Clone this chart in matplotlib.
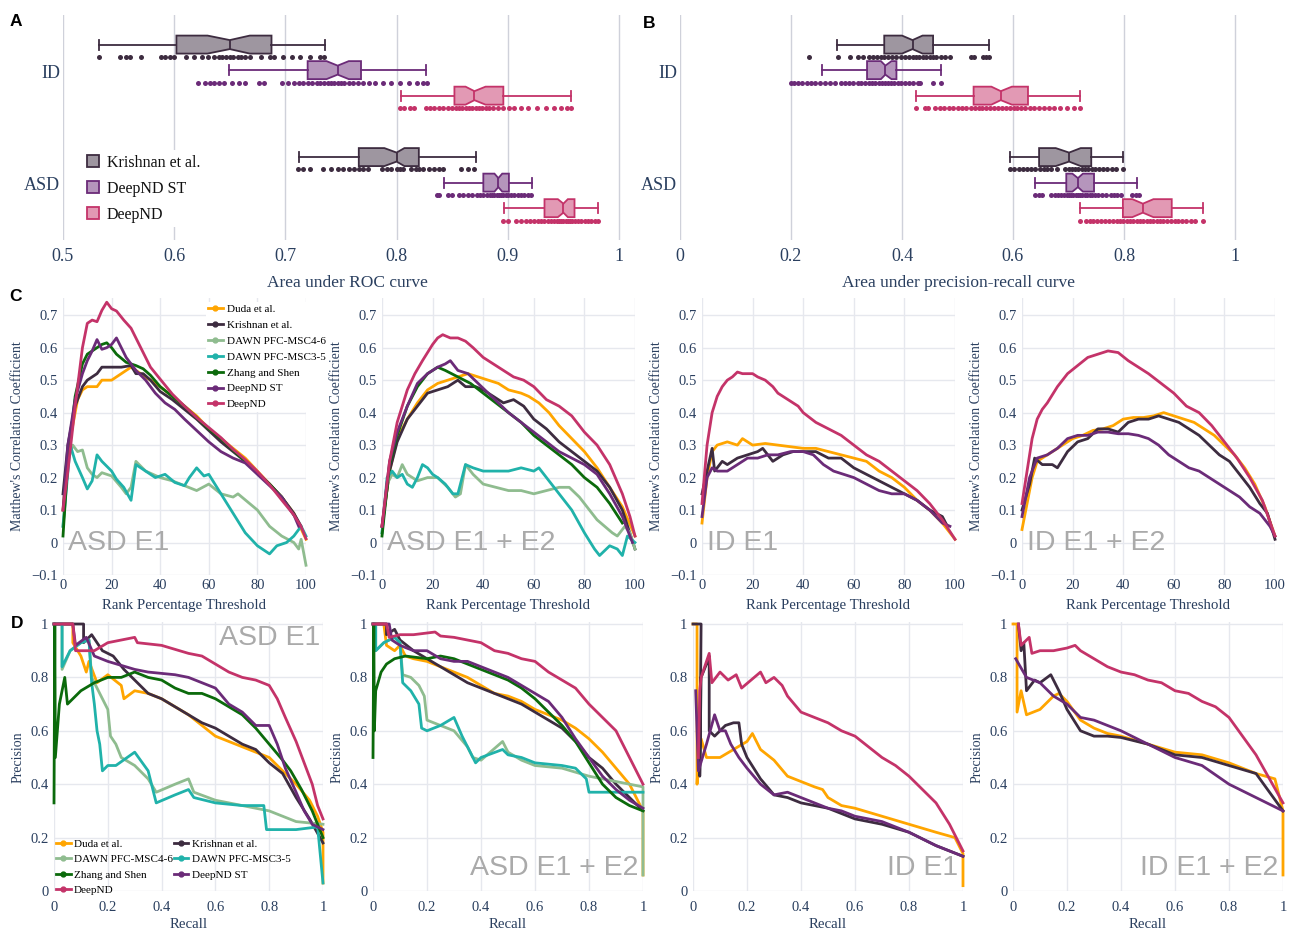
"""
DeepND figure: AUC box plots (A, B), MCC curves (C) and precision-recall curves (D).
Values are read off the published figure.
"""
import matplotlib
matplotlib.use("Agg")
import matplotlib.pyplot as plt
import matplotlib.colors as mc
from matplotlib.lines import Line2D
from matplotlib.ticker import FuncFormatter, MultipleLocator

W, H = 1293, 933
SERIF = ["Liberation Serif", "DejaVu Serif"]
SANS = ["Liberation Sans", "DejaVu Sans"]
INK = "#2a3f5f"
GRID = "#e6e8ee"

COLORS = {
    "Duda et al.": "#ffa500",
    "Krishnan et al.": "#3d2c40",
    "DAWN PFC-MSC4-6": "#8fbc8f",
    "DAWN PFC-MSC3-5": "#20b2aa",
    "Zhang and Shen": "#0b6a0b",
    "DeepND ST": "#6b2b78",
    "DeepND": "#c43369",
}
ALL_METHODS = ["Duda et al.", "Krishnan et al.", "DAWN PFC-MSC4-6", "DAWN PFC-MSC3-5",
               "Zhang and Shen", "DeepND ST", "DeepND"]

# ---- A / B: box stats [whislo, q1, cilo, med, cihi, q3, whishi] ----
BOX_METHODS = ["Krishnan et al.", "DeepND ST", "DeepND"]
ROC_ID_STATS = [[0.532, 0.602, 0.630, 0.650, 0.668, 0.6875, 0.736],
                [0.649, 0.720, 0.737, 0.747, 0.757, 0.768, 0.826],
                [0.804, 0.852, 0.862, 0.870, 0.880, 0.896, 0.957]]
ROC_ASD_STATS = [[0.712, 0.766, 0.789, 0.800, 0.807, 0.820, 0.871],
                 [0.843, 0.878, 0.888, 0.8915, 0.895, 0.901, 0.922],
                 [0.897, 0.933, 0.945, 0.950, 0.954, 0.960, 0.981]]
PR_ID_STATS = [[0.283, 0.368, 0.400, 0.419, 0.437, 0.456, 0.556],
               [0.256, 0.337, 0.362, 0.370, 0.381, 0.390, 0.470],
               [0.426, 0.529, 0.561, 0.578, 0.598, 0.627, 0.720]]
PR_ASD_STATS = [[0.595, 0.647, 0.677, 0.701, 0.722, 0.741, 0.799],
                [0.640, 0.696, 0.707, 0.717, 0.726, 0.746, 0.823],
                [0.720, 0.798, 0.815, 0.834, 0.853, 0.886, 0.942]]

ROC_ID_POINTS = [
    [0.532, 0.551, 0.557, 0.560, 0.570, 0.588, 0.592, 0.596, 0.600, 0.611, 0.618, 0.625, 0.630,
     0.636, 0.640, 0.643, 0.647, 0.650, 0.653, 0.657, 0.660, 0.664, 0.668, 0.678, 0.686, 0.690,
     0.698, 0.706, 0.713, 0.722, 0.731, 0.735],
    [0.621, 0.628, 0.632, 0.636, 0.640, 0.645, 0.652, 0.658, 0.664, 0.676, 0.681, 0.697, 0.702,
     0.708, 0.712, 0.716, 0.720, 0.724, 0.728, 0.731, 0.735, 0.738, 0.741, 0.744, 0.747, 0.750,
     0.753, 0.757, 0.761, 0.765, 0.770, 0.775, 0.781, 0.788, 0.795, 0.803, 0.811, 0.818, 0.824, 0.827],
    [0.803, 0.807, 0.812, 0.816, 0.826, 0.830, 0.834, 0.838, 0.842, 0.846, 0.850, 0.853, 0.856,
     0.859, 0.862, 0.865, 0.868, 0.871, 0.874, 0.877, 0.880, 0.883, 0.887, 0.891, 0.896, 0.901,
     0.906, 0.912, 0.918, 0.926, 0.934, 0.942, 0.948, 0.953, 0.957],
]
ROC_ASD_POINTS = [
    [0.711, 0.716, 0.722, 0.734, 0.741, 0.747, 0.752, 0.757, 0.762, 0.766, 0.770, 0.774, 0.787,
     0.791, 0.795, 0.800, 0.803, 0.806, 0.813, 0.817, 0.820, 0.824, 0.829, 0.834, 0.838, 0.842,
     0.858, 0.864, 0.870],
    [0.836, 0.838, 0.846, 0.850, 0.856, 0.860, 0.864, 0.868, 0.872, 0.875, 0.878, 0.881, 0.884,
     0.886, 0.888, 0.890, 0.892, 0.894, 0.896, 0.898, 0.900, 0.903, 0.906, 0.909, 0.912, 0.915,
     0.918, 0.921],
    [0.896, 0.900, 0.907, 0.912, 0.916, 0.920, 0.924, 0.927, 0.930, 0.933, 0.936, 0.939, 0.942,
     0.944, 0.946, 0.948, 0.950, 0.952, 0.954, 0.956, 0.958, 0.960, 0.963, 0.966, 0.969, 0.972,
     0.975, 0.978, 0.981],
]
PR_ID_POINTS = [
    [0.232, 0.284, 0.307, 0.320, 0.330, 0.340, 0.348, 0.355, 0.362, 0.368, 0.375, 0.382, 0.390,
     0.398, 0.405, 0.412, 0.419, 0.425, 0.431, 0.437, 0.443, 0.450, 0.456, 0.462, 0.470, 0.478,
     0.486, 0.524, 0.530, 0.546, 0.552, 0.556],
    [0.200, 0.205, 0.212, 0.220, 0.228, 0.236, 0.244, 0.252, 0.262, 0.270, 0.280, 0.290, 0.298,
     0.305, 0.312, 0.320, 0.327, 0.334, 0.340, 0.346, 0.352, 0.358, 0.364, 0.370, 0.375, 0.380,
     0.386, 0.392, 0.398, 0.405, 0.412, 0.420, 0.428, 0.432, 0.456, 0.471],
    [0.426, 0.442, 0.447, 0.460, 0.468, 0.476, 0.484, 0.492, 0.500, 0.508, 0.516, 0.524, 0.531,
     0.538, 0.545, 0.552, 0.559, 0.566, 0.573, 0.580, 0.587, 0.594, 0.601, 0.608, 0.615, 0.622,
     0.630, 0.638, 0.646, 0.655, 0.664, 0.674, 0.684, 0.697, 0.710, 0.720],
]
PR_ASD_POINTS = [
    [0.595, 0.602, 0.610, 0.618, 0.625, 0.632, 0.640, 0.648, 0.655, 0.662, 0.668, 0.680, 0.694,
     0.700, 0.706, 0.712, 0.718, 0.724, 0.730, 0.736, 0.742, 0.748, 0.755, 0.762, 0.770, 0.778,
     0.786, 0.799],
    [0.640, 0.646, 0.652, 0.668, 0.675, 0.681, 0.687, 0.692, 0.697, 0.701, 0.705, 0.709, 0.713,
     0.717, 0.721, 0.725, 0.729, 0.733, 0.738, 0.743, 0.748, 0.754, 0.760, 0.768, 0.776, 0.782,
     0.788, 0.794, 0.815, 0.822, 0.827],
    [0.720, 0.731, 0.738, 0.745, 0.752, 0.759, 0.766, 0.773, 0.780, 0.787, 0.793, 0.799, 0.805,
     0.811, 0.817, 0.823, 0.829, 0.835, 0.841, 0.847, 0.853, 0.859, 0.865, 0.871, 0.877, 0.884,
     0.891, 0.898, 0.905, 0.912, 0.920, 0.928, 0.943],
]

# ---- C: MCC vs rank percentage threshold, (x, y) pairs ----
MCC_ASD_E1 = {
    "Duda et al.": [(0, 0.10), (2, 0.28), (4, 0.36), (6, 0.44), (8, 0.47), (10, 0.48), (14, 0.48),
                    (16, 0.50), (20, 0.50), (24, 0.52), (28, 0.54), (32, 0.52), (36, 0.50), (40, 0.48),
                    (45, 0.45), (50, 0.42), (55, 0.39), (60, 0.35), (65, 0.32), (70, 0.29), (75, 0.26),
                    (80, 0.22), (85, 0.18), (90, 0.14), (95, 0.09), (100, 0.01)],
    "Krishnan et al.": [(0, 0.15), (2, 0.30), (5, 0.42), (8, 0.48), (10, 0.50), (14, 0.52), (16, 0.54),
                        (20, 0.54), (24, 0.54), (28, 0.545), (30, 0.52), (33, 0.52), (36, 0.50),
                        (40, 0.465), (45, 0.44), (50, 0.41), (55, 0.38), (60, 0.345), (65, 0.31),
                        (70, 0.28), (75, 0.25), (80, 0.215), (85, 0.18), (90, 0.14), (95, 0.09), (98, 0.05)],
    "DAWN PFC-MSC4-6": [(0, 0.05), (2, 0.25), (4, 0.30), (6, 0.28), (8, 0.285), (10, 0.23), (12, 0.21),
                        (14, 0.20), (16, 0.215), (20, 0.205), (24, 0.17), (26, 0.15), (28, 0.17),
                        (30, 0.25), (34, 0.22), (40, 0.20), (45, 0.19), (50, 0.175), (55, 0.16),
                        (60, 0.18), (65, 0.15), (70, 0.14), (72, 0.15), (80, 0.10), (85, 0.05),
                        (90, 0.02), (95, 0.0), (97, -0.02), (98, 0.01), (100, -0.07)],
    "DAWN PFC-MSC3-5": [(0, 0.05), (3, 0.30), (5, 0.25), (8, 0.20), (10, 0.165), (12, 0.19), (14, 0.27),
                        (16, 0.25), (18, 0.235), (20, 0.22), (22, 0.195), (25, 0.17), (28, 0.13),
                        (30, 0.24), (34, 0.22), (38, 0.20), (42, 0.21), (46, 0.185), (50, 0.175),
                        (52, 0.20), (55, 0.23), (58, 0.205), (60, 0.21), (65, 0.15), (70, 0.09),
                        (75, 0.03), (80, -0.01), (85, -0.035), (88, -0.01), (92, 0.0), (95, 0.02),
                        (98, 0.05), (100, 0.02)],
    "Zhang and Shen": [(0, 0.02), (2, 0.25), (5, 0.45), (8, 0.55), (10, 0.58), (14, 0.60), (16, 0.61),
                       (18, 0.615), (20, 0.60), (22, 0.58), (26, 0.555), (30, 0.545), (33, 0.535),
                       (36, 0.515), (40, 0.48), (45, 0.45), (50, 0.42), (55, 0.385), (60, 0.35),
                       (65, 0.32), (70, 0.285), (75, 0.25), (80, 0.215), (85, 0.18), (90, 0.14), (95, 0.085)],
    "DeepND ST": [(0, 0.10), (2, 0.30), (5, 0.44), (8, 0.52), (10, 0.56), (12, 0.59), (14, 0.625),
                  (16, 0.595), (18, 0.60), (20, 0.61), (22, 0.63), (24, 0.60), (26, 0.57), (30, 0.53),
                  (34, 0.50), (38, 0.46), (42, 0.43), (46, 0.41), (50, 0.38), (55, 0.345), (60, 0.31),
                  (65, 0.28), (70, 0.26), (75, 0.245), (80, 0.21), (85, 0.175), (90, 0.14), (95, 0.085),
                  (97, 0.05)],
    "DeepND": [(0, 0.10), (2, 0.22), (5, 0.42), (8, 0.60), (10, 0.675), (12, 0.685), (14, 0.68),
               (16, 0.715), (18, 0.74), (20, 0.72), (22, 0.713), (25, 0.685), (28, 0.66), (32, 0.60),
               (36, 0.54), (40, 0.503), (45, 0.457), (50, 0.42), (55, 0.385), (60, 0.354), (65, 0.323),
               (70, 0.287), (75, 0.255), (80, 0.219), (85, 0.178), (90, 0.131), (95, 0.085), (98, 0.049),
               (100, 0.012)],
}
MCC_ASD_E12 = {
    "Duda et al.": [(0, 0.05), (3, 0.22), (6, 0.32), (10, 0.38), (14, 0.43), (18, 0.47), (22, 0.49),
                    (26, 0.50), (30, 0.51), (34, 0.52), (38, 0.51), (42, 0.50), (46, 0.49), (50, 0.47),
                    (55, 0.46), (58, 0.45), (62, 0.43), (66, 0.40), (70, 0.36), (75, 0.32), (80, 0.28),
                    (85, 0.23), (90, 0.17), (95, 0.11), (100, 0.02)],
    "Krishnan et al.": [(0, 0.05), (3, 0.22), (6, 0.31), (10, 0.38), (14, 0.42), (18, 0.46), (22, 0.47),
                        (26, 0.48), (30, 0.50), (33, 0.48), (37, 0.48), (40, 0.47), (44, 0.45),
                        (48, 0.43), (52, 0.44), (56, 0.42), (60, 0.38), (65, 0.35), (70, 0.31),
                        (75, 0.28), (80, 0.25), (85, 0.22), (90, 0.17), (95, 0.10), (100, -0.02)],
    "DAWN PFC-MSC4-6": [(0, 0.03), (2, 0.18), (4, 0.21), (6, 0.20), (8, 0.24), (10, 0.21), (14, 0.19),
                        (18, 0.20), (22, 0.20), (26, 0.17), (29, 0.14), (31, 0.15), (33, 0.24),
                        (36, 0.21), (40, 0.18), (45, 0.17), (50, 0.16), (55, 0.16), (60, 0.15),
                        (65, 0.16), (70, 0.17), (74, 0.17), (78, 0.14), (82, 0.10), (85, 0.07),
                        (88, 0.05), (91, 0.03), (93, 0.02), (96, 0.05), (98, 0.03), (100, -0.02)],
    "DAWN PFC-MSC3-5": [(0, 0.03), (2, 0.20), (4, 0.22), (6, 0.20), (8, 0.21), (10, 0.18), (12, 0.17),
                        (14, 0.20), (16, 0.24), (18, 0.23), (20, 0.21), (22, 0.20), (25, 0.18),
                        (28, 0.15), (30, 0.15), (33, 0.24), (36, 0.23), (40, 0.22), (45, 0.22),
                        (50, 0.22), (55, 0.23), (60, 0.22), (62, 0.23), (65, 0.20), (70, 0.15),
                        (75, 0.10), (80, 0.03), (84, -0.02), (86, -0.04), (90, -0.01), (93, -0.02),
                        (95, -0.04), (97, 0.02), (100, 0.0)],
    "Zhang and Shen": [(0, 0.02), (3, 0.24), (6, 0.33), (10, 0.42), (14, 0.48), (18, 0.52), (22, 0.54),
                       (25, 0.53), (30, 0.51), (35, 0.49), (40, 0.46), (45, 0.43), (50, 0.40),
                       (55, 0.37), (60, 0.33), (65, 0.30), (70, 0.27), (75, 0.24), (80, 0.20),
                       (85, 0.17), (90, 0.12), (95, 0.06)],
    "DeepND ST": [(0, 0.05), (3, 0.25), (6, 0.34), (10, 0.42), (14, 0.49), (18, 0.52), (22, 0.54),
                  (25, 0.55), (27, 0.56), (30, 0.53), (34, 0.52), (38, 0.49), (42, 0.46), (46, 0.43),
                  (50, 0.40), (55, 0.37), (60, 0.34), (65, 0.31), (70, 0.28), (75, 0.26), (80, 0.24),
                  (85, 0.21), (90, 0.15), (95, 0.08), (99, 0.0)],
    "DeepND": [(0, 0.05), (3, 0.25), (6, 0.37), (10, 0.47), (13, 0.52), (16, 0.56), (20, 0.61),
               (22, 0.63), (24, 0.64), (27, 0.63), (30, 0.63), (33, 0.62), (36, 0.60), (40, 0.57),
               (44, 0.55), (48, 0.53), (52, 0.51), (56, 0.50), (60, 0.48), (65, 0.44), (70, 0.42),
               (75, 0.39), (80, 0.34), (85, 0.30), (90, 0.24), (95, 0.15), (98, 0.08), (100, 0.02)],
}
MCC_ID_E1 = {
    "Duda et al.": [(0, 0.06), (2, 0.20), (4, 0.28), (6, 0.30), (10, 0.31), (14, 0.30), (16, 0.32),
                    (18, 0.31), (20, 0.30), (25, 0.305), (30, 0.30), (35, 0.295), (40, 0.29),
                    (45, 0.29), (50, 0.28), (55, 0.27), (60, 0.26), (65, 0.25), (70, 0.22), (75, 0.20),
                    (80, 0.17), (85, 0.13), (90, 0.10), (95, 0.06), (100, 0.01)],
    "Krishnan et al.": [(0, 0.15), (2, 0.22), (4, 0.29), (5, 0.22), (8, 0.25), (10, 0.24), (14, 0.26),
                        (18, 0.27), (22, 0.28), (24, 0.29), (28, 0.25), (32, 0.27), (36, 0.28),
                        (40, 0.28), (45, 0.28), (50, 0.26), (55, 0.26), (60, 0.23), (65, 0.21),
                        (70, 0.19), (75, 0.17), (80, 0.15), (85, 0.13), (90, 0.10), (95, 0.08), (97, 0.05)],
    "DeepND ST": [(0, 0.08), (2, 0.20), (4, 0.23), (6, 0.22), (10, 0.22), (14, 0.24), (18, 0.26),
                  (22, 0.26), (26, 0.27), (30, 0.27), (35, 0.28), (40, 0.28), (44, 0.27), (48, 0.24),
                  (52, 0.22), (56, 0.21), (60, 0.20), (65, 0.18), (70, 0.16), (75, 0.15), (80, 0.15),
                  (85, 0.13), (90, 0.10), (95, 0.06), (98, 0.05)],
    "DeepND": [(0, 0.12), (2, 0.30), (4, 0.40), (6, 0.45), (8, 0.48), (10, 0.50), (12, 0.51),
               (14, 0.525), (16, 0.52), (18, 0.52), (20, 0.52), (22, 0.51), (25, 0.50), (28, 0.48),
               (30, 0.46), (34, 0.44), (38, 0.42), (40, 0.40), (45, 0.37), (50, 0.35), (55, 0.33),
               (60, 0.30), (65, 0.27), (70, 0.25), (75, 0.22), (80, 0.19), (85, 0.16), (90, 0.12),
               (95, 0.07), (100, 0.01)],
}
MCC_ID_E12 = {
    "Duda et al.": [(0, 0.04), (2, 0.12), (4, 0.20), (6, 0.25), (8, 0.26), (12, 0.28), (16, 0.30),
                    (20, 0.32), (24, 0.33), (28, 0.345), (32, 0.35), (36, 0.36), (40, 0.38), (44, 0.385),
                    (48, 0.385), (52, 0.39), (56, 0.40), (60, 0.39), (64, 0.38), (68, 0.37), (72, 0.35),
                    (76, 0.33), (80, 0.30), (84, 0.27), (88, 0.23), (92, 0.18), (96, 0.11), (100, 0.02)],
    "Krishnan et al.": [(0, 0.10), (3, 0.18), (5, 0.26), (8, 0.24), (12, 0.24), (14, 0.23), (18, 0.28),
                        (22, 0.31), (26, 0.32), (30, 0.35), (34, 0.35), (38, 0.34), (42, 0.37),
                        (46, 0.38), (50, 0.38), (54, 0.39), (58, 0.38), (62, 0.37), (66, 0.35),
                        (70, 0.33), (74, 0.30), (78, 0.27), (82, 0.25), (86, 0.21), (90, 0.17),
                        (94, 0.12), (97, 0.09), (100, 0.01)],
    "DeepND ST": [(0, 0.08), (3, 0.20), (6, 0.26), (10, 0.27), (14, 0.29), (18, 0.32), (22, 0.33),
                  (26, 0.33), (30, 0.34), (34, 0.34), (38, 0.335), (42, 0.335), (46, 0.33), (50, 0.32),
                  (54, 0.30), (58, 0.27), (62, 0.25), (66, 0.23), (70, 0.22), (74, 0.20), (78, 0.18),
                  (82, 0.16), (86, 0.14), (90, 0.11), (94, 0.09), (98, 0.05), (100, 0.02)],
    "DeepND": [(0, 0.12), (2, 0.22), (4, 0.32), (6, 0.38), (8, 0.41), (10, 0.43), (14, 0.48),
               (18, 0.52), (22, 0.545), (26, 0.57), (30, 0.58), (34, 0.59), (38, 0.585), (42, 0.56),
               (46, 0.54), (50, 0.52), (55, 0.49), (60, 0.46), (65, 0.42), (70, 0.40), (75, 0.36),
               (80, 0.31), (85, 0.26), (90, 0.20), (95, 0.13), (100, 0.02)],
}

# ---- D: precision vs recall, (recall, precision) pairs ----
PR_ASD_E1 = {
    "Duda et al.": [(0, 1), (0.07, 1), (0.07, 0.93), (0.10, 0.88), (0.12, 0.82), (0.13, 0.86),
                    (0.16, 0.78), (0.20, 0.81), (0.25, 0.77), (0.26, 0.72), (0.30, 0.75), (0.35, 0.74),
                    (0.40, 0.72), (0.45, 0.69), (0.50, 0.66), (0.55, 0.62), (0.60, 0.58), (0.65, 0.56),
                    (0.70, 0.54), (0.75, 0.52), (0.80, 0.50), (0.85, 0.45), (0.90, 0.40), (0.95, 0.34),
                    (0.98, 0.28), (1.0, 0.22), (1.0, 0.03)],
    "Krishnan et al.": [(0, 1), (0.11, 1), (0.11, 0.93), (0.14, 0.96), (0.18, 0.90), (0.22, 0.88),
                        (0.26, 0.83), (0.30, 0.79), (0.35, 0.74), (0.40, 0.72), (0.45, 0.69),
                        (0.50, 0.66), (0.55, 0.63), (0.60, 0.61), (0.65, 0.58), (0.70, 0.55),
                        (0.75, 0.53), (0.80, 0.48), (0.85, 0.44), (0.90, 0.35), (0.95, 0.27), (1.0, 0.18)],
    "DAWN PFC-MSC4-6": [(0, 1), (0.03, 1), (0.03, 0.83), (0.06, 0.90), (0.10, 0.93), (0.13, 0.94),
                        (0.14, 0.80), (0.16, 0.76), (0.18, 0.72), (0.20, 0.68), (0.21, 0.58),
                        (0.23, 0.55), (0.25, 0.50), (0.30, 0.47), (0.35, 0.42), (0.38, 0.37),
                        (0.45, 0.40), (0.50, 0.42), (0.52, 0.37), (0.60, 0.34), (0.70, 0.32),
                        (0.80, 0.30), (0.90, 0.26), (1.0, 0.25)],
    "DAWN PFC-MSC3-5": [(0, 1), (0.03, 1), (0.03, 0.84), (0.06, 0.90), (0.10, 0.93), (0.13, 0.94),
                        (0.14, 0.78), (0.15, 0.70), (0.16, 0.60), (0.17, 0.55), (0.18, 0.45),
                        (0.20, 0.47), (0.23, 0.47), (0.30, 0.52), (0.35, 0.45), (0.38, 0.33),
                        (0.45, 0.36), (0.50, 0.38), (0.52, 0.35), (0.60, 0.33), (0.70, 0.32),
                        (0.78, 0.32), (0.79, 0.23), (0.90, 0.23), (0.98, 0.24), (1.0, 0.03)],
    "Zhang and Shen": [(0, 0.33), (0.003, 1), (0.005, 0.50), (0.02, 0.70), (0.04, 0.80), (0.05, 0.70),
                       (0.10, 0.75), (0.15, 0.78), (0.20, 0.80), (0.25, 0.80), (0.30, 0.82),
                       (0.35, 0.80), (0.40, 0.79), (0.45, 0.76), (0.50, 0.74), (0.55, 0.74),
                       (0.60, 0.72), (0.65, 0.69), (0.70, 0.66), (0.75, 0.61), (0.80, 0.55),
                       (0.85, 0.49), (0.88, 0.45), (0.92, 0.38), (0.96, 0.30), (1.0, 0.20)],
    "DeepND ST": [(0, 1), (0.07, 1), (0.08, 0.92), (0.12, 0.95), (0.15, 0.88), (0.20, 0.86),
                  (0.30, 0.83), (0.35, 0.82), (0.45, 0.81), (0.50, 0.80), (0.55, 0.78), (0.60, 0.76),
                  (0.65, 0.70), (0.70, 0.67), (0.75, 0.62), (0.80, 0.62), (0.83, 0.55), (0.86, 0.46),
                  (0.90, 0.37), (0.93, 0.30), (0.96, 0.25), (1.0, 0.23)],
    "DeepND": [(0, 1), (0.07, 1), (0.08, 0.90), (0.15, 0.90), (0.20, 0.93), (0.30, 0.95), (0.31, 0.93),
               (0.40, 0.92), (0.50, 0.89), (0.55, 0.88), (0.60, 0.85), (0.65, 0.82), (0.70, 0.80),
               (0.75, 0.79), (0.80, 0.77), (0.83, 0.72), (0.86, 0.65), (0.90, 0.56), (0.93, 0.48),
               (0.96, 0.40), (0.98, 0.32), (1.0, 0.27)],
}
PR_ASD_E12 = {
    "Duda et al.": [(0, 1), (0.04, 1), (0.05, 0.92), (0.08, 0.90), (0.10, 0.92), (0.12, 0.88),
                    (0.15, 0.87), (0.20, 0.86), (0.25, 0.84), (0.30, 0.82), (0.35, 0.80), (0.40, 0.77),
                    (0.45, 0.74), (0.50, 0.73), (0.55, 0.71), (0.60, 0.68), (0.65, 0.66), (0.70, 0.64),
                    (0.75, 0.61), (0.80, 0.57), (0.85, 0.52), (0.90, 0.46), (0.95, 0.40), (1.0, 0.30),
                    (1.0, 0.06)],
    "Krishnan et al.": [(0, 1), (0.05, 1), (0.05, 0.96), (0.08, 0.98), (0.10, 0.94), (0.15, 0.90),
                        (0.20, 0.87), (0.25, 0.84), (0.30, 0.81), (0.35, 0.78), (0.40, 0.76),
                        (0.45, 0.74), (0.50, 0.72), (0.55, 0.70), (0.60, 0.67), (0.65, 0.64),
                        (0.70, 0.61), (0.75, 0.56), (0.80, 0.50), (0.85, 0.46), (0.90, 0.40),
                        (0.95, 0.35), (1.0, 0.30)],
    "DAWN PFC-MSC4-6": [(0, 1), (0.01, 1), (0.01, 0.90), (0.04, 0.93), (0.08, 0.95), (0.10, 0.93),
                        (0.11, 0.81), (0.14, 0.80), (0.17, 0.77), (0.19, 0.73), (0.20, 0.64),
                        (0.25, 0.62), (0.30, 0.60), (0.35, 0.54), (0.37, 0.50), (0.40, 0.49),
                        (0.48, 0.56), (0.50, 0.52), (0.55, 0.49), (0.60, 0.47), (0.70, 0.46),
                        (0.80, 0.43), (0.90, 0.41), (1.0, 0.39), (1.0, 0.06)],
    "DAWN PFC-MSC3-5": [(0, 1), (0.01, 1), (0.01, 0.90), (0.04, 0.93), (0.08, 0.95), (0.10, 0.93),
                        (0.11, 0.78), (0.14, 0.75), (0.17, 0.70), (0.18, 0.61), (0.20, 0.60),
                        (0.25, 0.62), (0.30, 0.65), (0.33, 0.58), (0.38, 0.48), (0.40, 0.50),
                        (0.48, 0.53), (0.50, 0.51), (0.55, 0.50), (0.60, 0.48), (0.70, 0.47),
                        (0.75, 0.46), (0.79, 0.42), (0.80, 0.37), (0.90, 0.37), (1.0, 0.37)],
    "Zhang and Shen": [(0, 0.50), (0.003, 1), (0.005, 0.60), (0.01, 0.75), (0.03, 0.82), (0.05, 0.85),
                       (0.08, 0.87), (0.12, 0.88), (0.20, 0.87), (0.25, 0.88), (0.30, 0.87),
                       (0.35, 0.85), (0.40, 0.83), (0.45, 0.81), (0.50, 0.79), (0.55, 0.76),
                       (0.60, 0.72), (0.65, 0.67), (0.70, 0.62), (0.75, 0.56), (0.80, 0.48),
                       (0.85, 0.40), (0.90, 0.35), (0.95, 0.32), (1.0, 0.30)],
    "DeepND ST": [(0, 1), (0.06, 1), (0.07, 0.94), (0.10, 0.92), (0.15, 0.90), (0.20, 0.90),
                  (0.25, 0.87), (0.30, 0.86), (0.35, 0.86), (0.40, 0.84), (0.45, 0.82), (0.50, 0.80),
                  (0.55, 0.77), (0.60, 0.74), (0.65, 0.71), (0.70, 0.65), (0.75, 0.57), (0.80, 0.50),
                  (0.85, 0.43), (0.90, 0.38), (0.95, 0.34), (1.0, 0.31)],
    "DeepND": [(0, 1), (0.05, 1), (0.06, 0.95), (0.10, 0.96), (0.15, 0.96), (0.23, 0.97), (0.25, 0.955),
               (0.30, 0.95), (0.35, 0.94), (0.40, 0.93), (0.45, 0.90), (0.50, 0.89), (0.55, 0.87),
               (0.60, 0.86), (0.65, 0.82), (0.70, 0.79), (0.75, 0.76), (0.80, 0.70), (0.85, 0.65),
               (0.90, 0.60), (0.95, 0.50), (1.0, 0.40)],
}
PR_ID_E1 = {
    "Duda et al.": [(0, 1), (0.015, 1), (0.015, 0.40), (0.02, 0.50), (0.03, 0.57), (0.05, 0.50),
                    (0.10, 0.50), (0.15, 0.53), (0.20, 0.56), (0.22, 0.59), (0.25, 0.53), (0.30, 0.49),
                    (0.35, 0.43), (0.40, 0.41), (0.45, 0.39), (0.48, 0.38), (0.50, 0.35), (0.55, 0.32),
                    (0.60, 0.31), (0.70, 0.28), (0.80, 0.25), (0.90, 0.22), (0.97, 0.20), (1.0, 0.14),
                    (1.0, 0.02)],
    "Krishnan et al.": [(0, 1), (0.03, 1), (0.025, 0.43), (0.03, 0.80), (0.05, 0.85), (0.06, 0.88),
                        (0.06, 0.60), (0.08, 0.58), (0.10, 0.60), (0.12, 0.62), (0.15, 0.63),
                        (0.17, 0.63), (0.18, 0.55), (0.20, 0.50), (0.25, 0.42), (0.30, 0.36),
                        (0.35, 0.35), (0.40, 0.33), (0.45, 0.32), (0.50, 0.31), (0.60, 0.27),
                        (0.70, 0.25), (0.80, 0.22), (0.90, 0.17), (1.0, 0.13)],
    "DeepND ST": [(0.01, 0.75), (0.02, 0.45), (0.05, 0.55), (0.08, 0.66), (0.10, 0.60), (0.12, 0.60),
                  (0.14, 0.55), (0.17, 0.50), (0.20, 0.46), (0.25, 0.40), (0.30, 0.36), (0.35, 0.37),
                  (0.40, 0.35), (0.45, 0.33), (0.50, 0.31), (0.55, 0.30), (0.60, 0.28), (0.70, 0.26),
                  (0.80, 0.22), (0.90, 0.17), (1.0, 0.13)],
    "DeepND": [(0.02, 0.50), (0.025, 0.75), (0.03, 0.80), (0.06, 0.89), (0.07, 0.78), (0.10, 0.82),
               (0.13, 0.79), (0.16, 0.81), (0.18, 0.76), (0.25, 0.82), (0.27, 0.78), (0.30, 0.80),
               (0.33, 0.77), (0.35, 0.73), (0.40, 0.67), (0.45, 0.65), (0.50, 0.63), (0.55, 0.60),
               (0.60, 0.58), (0.65, 0.54), (0.70, 0.50), (0.75, 0.47), (0.80, 0.43), (0.85, 0.38),
               (0.90, 0.33), (0.95, 0.25), (1.0, 0.15)],
}
PR_ID_E12 = {
    "Duda et al.": [(0, 1), (0.015, 1), (0.015, 0.67), (0.03, 0.75), (0.05, 0.66), (0.10, 0.68),
                    (0.15, 0.73), (0.17, 0.74), (0.20, 0.71), (0.25, 0.64), (0.30, 0.61), (0.35, 0.59),
                    (0.40, 0.58), (0.50, 0.55), (0.60, 0.52), (0.70, 0.51), (0.80, 0.48), (0.90, 0.44),
                    (0.97, 0.42), (1.0, 0.30), (1.0, 0.06)],
    "Krishnan et al.": [(0.02, 1), (0.03, 0.90), (0.04, 0.93), (0.05, 0.75), (0.08, 0.79), (0.10, 0.78),
                        (0.14, 0.81), (0.17, 0.75), (0.20, 0.68), (0.25, 0.60), (0.30, 0.58),
                        (0.35, 0.58), (0.40, 0.575), (0.50, 0.55), (0.60, 0.51), (0.70, 0.50),
                        (0.80, 0.47), (0.90, 0.44), (0.95, 0.37), (1.0, 0.30)],
    "DeepND ST": [(0.01, 0.87), (0.05, 0.80), (0.10, 0.78), (0.15, 0.73), (0.20, 0.70), (0.25, 0.65),
                  (0.30, 0.64), (0.35, 0.62), (0.40, 0.60), (0.50, 0.55), (0.60, 0.50), (0.70, 0.47),
                  (0.80, 0.40), (0.90, 0.35), (1.0, 0.30)],
    "DeepND": [(0.02, 1), (0.03, 0.92), (0.06, 0.95), (0.07, 0.89), (0.10, 0.90), (0.15, 0.90),
               (0.20, 0.91), (0.23, 0.92), (0.25, 0.90), (0.30, 0.87), (0.35, 0.84), (0.40, 0.82),
               (0.45, 0.81), (0.50, 0.79), (0.55, 0.78), (0.60, 0.75), (0.65, 0.74), (0.70, 0.71),
               (0.75, 0.69), (0.80, 0.65), (0.85, 0.58), (0.90, 0.51), (0.95, 0.42), (1.0, 0.33)],
}

MCC_PANELS = [MCC_ASD_E1, MCC_ASD_E12, MCC_ID_E1, MCC_ID_E12]
PR_PANELS = [PR_ASD_E1, PR_ASD_E12, PR_ID_E1, PR_ID_E12]
PANEL_TAGS = ["ASD E1", "ASD E1 + E2", "ID E1", "ID E1 + E2"]


def px_axes(fig, left, top, right, bottom):
    return fig.add_axes([left / W, 1 - bottom / H, (right - left) / W, (bottom - top) / H])


def ftext(fig, x, y, s, **kw):
    return fig.text(x / W, 1 - y / H, s, **kw)


def num_fmt(v, _pos=None):
    v = round(v, 6)
    if abs(v) < 1e-9:
        v = 0.0
    return f"{v:g}".replace("-", "\u2212")


def style_axes(ax, size):
    for sp in ax.spines.values():
        sp.set_visible(False)
    ax.tick_params(length=0, labelsize=size, labelcolor=INK)
    for lab in ax.get_xticklabels() + ax.get_yticklabels():
        lab.set_fontfamily(SERIF)
    ax.xaxis.set_major_formatter(FuncFormatter(num_fmt))


def fill_of(c, a=0.5):
    r, g, b = mc.to_rgb(c)
    return (1 - a + a * r, 1 - a + a * g, 1 - a + a * b)


def draw_boxes(ax, id_stats, asd_stats, id_pts, asd_pts):
    offs = [0.227, 0.0, -0.227]
    for center, stats_list, pts_list in [(1.0, id_stats, id_pts), (0.0, asd_stats, asd_pts)]:
        for k, name in enumerate(BOX_METHODS):
            c = COLORS[name]
            lo, q1, cilo, med, cihi, q3, hi = stats_list[k]
            st = dict(whislo=lo, q1=q1, cilo=cilo, med=med, cihi=cihi, q3=q3, whishi=hi, fliers=[])
            y = center + offs[k]
            ax.bxp([st], positions=[y + 0.01], widths=0.16, orientation="horizontal",
                   shownotches=True, patch_artist=True, showfliers=False, manage_ticks=False,
                   boxprops=dict(facecolor=fill_of(c), edgecolor=c, linewidth=1.3),
                   medianprops=dict(color=c, linewidth=1.3),
                   whiskerprops=dict(color=c, linewidth=1.3),
                   capprops=dict(color=c, linewidth=1.3), capwidths=0.09)
            pts = pts_list[k]
            ax.plot(pts, [y - 0.1] * len(pts), "o", color=c, markersize=3.6,
                    markeredgewidth=0, zorder=3)
    ax.set_ylim(-0.5, 1.5)
    ax.set_yticks([0, 1])
    ax.set_yticklabels(["ASD", "ID"])
    ax.grid(axis="x", color="#cfd1da", linewidth=1.0)
    ax.set_axisbelow(True)
    style_axes(ax, 13)
    ax.tick_params(axis="x", pad=6)
    ax.tick_params(axis="y", pad=2)


def main():
    fig = plt.figure(figsize=(W / 100, H / 100), dpi=100)

    # ---- A ----
    axA = px_axes(fig, 63, 15, 625, 240)
    draw_boxes(axA, ROC_ID_STATS, ROC_ASD_STATS, ROC_ID_POINTS, ROC_ASD_POINTS)
    axA.set_xlim(0.5, 1.0054)
    axA.set_xticks([0.5, 0.6, 0.7, 0.8, 0.9, 1.0])
    style_axes(axA, 13)
    handles = [Line2D([], [], marker="s", linestyle="none", markersize=9,
                      markerfacecolor=fill_of(COLORS[n]), markeredgecolor=COLORS[n],
                      markeredgewidth=1.3, label=n) for n in BOX_METHODS]
    legA = axA.legend(handles=handles, loc="upper left", bbox_to_anchor=(82 / W, 1 - 150 / H),
                      bbox_transform=fig.transFigure, frameon=True, facecolor="white",
                      edgecolor="none", framealpha=1, handlelength=0.8,
                      handletextpad=0.45, labelspacing=0.62, borderpad=0.3, borderaxespad=0,
                      prop={"family": SERIF, "size": 11.5})
    for t in legA.get_texts():
        t.set_color("#111111")
    ftext(fig, 347, 283, "Area under ROC curve", ha="center", va="center",
          fontsize=12.5, color=INK, family=SERIF)

    # ---- B ----
    axB = px_axes(fig, 680, 15, 1245, 240)
    draw_boxes(axB, PR_ID_STATS, PR_ASD_STATS, PR_ID_POINTS, PR_ASD_POINTS)
    axB.set_xlim(0, 1 + 10 / 555)
    axB.set_xticks([0, 0.2, 0.4, 0.6, 0.8, 1.0])
    style_axes(axB, 13)
    ftext(fig, 958, 283, "Area under precision-recall curve", ha="center", va="center",
          fontsize=12.5, color=INK, family=SERIF)

    # ---- C ----
    c_x = [(63, 306), (382, 635), (702, 955), (1022, 1275)]
    for i, (l, r) in enumerate(c_x):
        ax = px_axes(fig, l, 298, r, 575)
        data = MCC_PANELS[i]
        for name in ALL_METHODS:
            if name not in data:
                continue
            xs, ys = zip(*data[name])
            ax.plot(xs, ys, color=COLORS[name], linewidth=2.0, solid_joinstyle="round",
                    clip_on=False, label=name)
        ax.set_xlim(0, 100)
        ax.set_ylim(-0.1, 0.753)
        ax.xaxis.set_major_locator(MultipleLocator(20))
        ax.yaxis.set_major_locator(MultipleLocator(0.1))
        ax.yaxis.set_major_formatter(FuncFormatter(num_fmt))
        ax.grid(True, color=GRID, linewidth=1.0)
        ax.set_axisbelow(True)
        style_axes(ax, 10.5)
        ax.tick_params(axis="x", pad=3)
        ax.tick_params(axis="y", pad=4)
        ftext(fig, l - 45, 436, "Matthew's Correlation Coefficient", rotation=90, ha="center",
              va="center", fontsize=10, color=INK, family=SERIF)
        ftext(fig, (l + r) / 2, 606, "Rank Percentage Threshold", ha="center", va="center",
              fontsize=10.7, color=INK, family=SERIF)
        ftext(fig, l + 5, 543, PANEL_TAGS[i], ha="left", va="center", fontsize=20.5,
              color="#aaaaaa", family=SANS)
        if i == 0:
            hs = [Line2D([], [], color=COLORS[n], linewidth=2, marker="o", markersize=3.5,
                         label=n) for n in ALL_METHODS]
            ax.legend(handles=hs, loc="upper left", bbox_to_anchor=(206 / W, 1 - 302 / H),
                      bbox_transform=fig.transFigure, frameon=True, facecolor="white",
                      edgecolor="none", framealpha=1, handlelength=1.3, handletextpad=0.35,
                      labelspacing=0.55, borderpad=0.2, borderaxespad=0,
                      prop={"family": SERIF, "size": 8})

    # ---- D ----
    d_x = [(54, 323), (373, 643), (693, 963), (1013, 1283)]
    for i, (l, r) in enumerate(d_x):
        ax = px_axes(fig, l, 622, r, 891)
        data = PR_PANELS[i]
        for name in ALL_METHODS:
            if name not in data:
                continue
            xs, ys = zip(*data[name])
            ax.plot(xs, ys, color=COLORS[name], linewidth=2.0, solid_joinstyle="round",
                    clip_on=False, label=name)
        ax.set_xlim(0, 1)
        ax.set_ylim(0, 1.0075)
        ax.xaxis.set_major_locator(MultipleLocator(0.2))
        ax.yaxis.set_major_locator(MultipleLocator(0.2))
        ax.yaxis.set_major_formatter(FuncFormatter(num_fmt))
        ax.grid(True, color=GRID, linewidth=1.0)
        ax.set_axisbelow(True)
        style_axes(ax, 10.5)
        ax.tick_params(axis="x", pad=7.5)
        ax.tick_params(axis="y", pad=4)
        ftext(fig, l - 36, 757, "Precision", rotation=90, ha="center", va="center",
              fontsize=10, color=INK, family=SERIF)
        ftext(fig, (l + r) / 2, 924, "Recall", ha="center", va="center",
              fontsize=10.7, color=INK, family=SERIF)
        if i == 0:
            ftext(fig, 320, 638, PANEL_TAGS[i], ha="right", va="center", fontsize=20.5,
                  color="#aaaaaa", family=SANS)
            order = ["Duda et al.", "DAWN PFC-MSC4-6", "Zhang and Shen", "DeepND",
                     "Krishnan et al.", "DAWN PFC-MSC3-5", "DeepND ST"]
            hs = [Line2D([], [], color=COLORS[n], linewidth=2, marker="o", markersize=3.5,
                         label=n) for n in order]
            ax.legend(handles=hs, loc="lower left", bbox_to_anchor=(55 / W, 1 - 896 / H),
                      bbox_transform=fig.transFigure, ncol=2, frameon=False,
                      handlelength=1.3, handletextpad=0.3, labelspacing=0.5,
                      columnspacing=0.1, borderpad=0.1, borderaxespad=0,
                      prop={"family": SERIF, "size": 8})
        else:
            ftext(fig, r - 5, 868, PANEL_TAGS[i], ha="right", va="center", fontsize=20.5,
                  color="#aaaaaa", family=SANS)

    for letter, x, y in [("A", 16, 22), ("B", 649, 23), ("C", 15, 297), ("D", 17, 623)]:
        ftext(fig, x, y, letter, ha="center", va="center", fontsize=12.5, fontweight="bold",
              color="black", family=SANS)

    fig.savefig("out.png", dpi=100, facecolor="white")


if __name__ == "__main__":
    main()
